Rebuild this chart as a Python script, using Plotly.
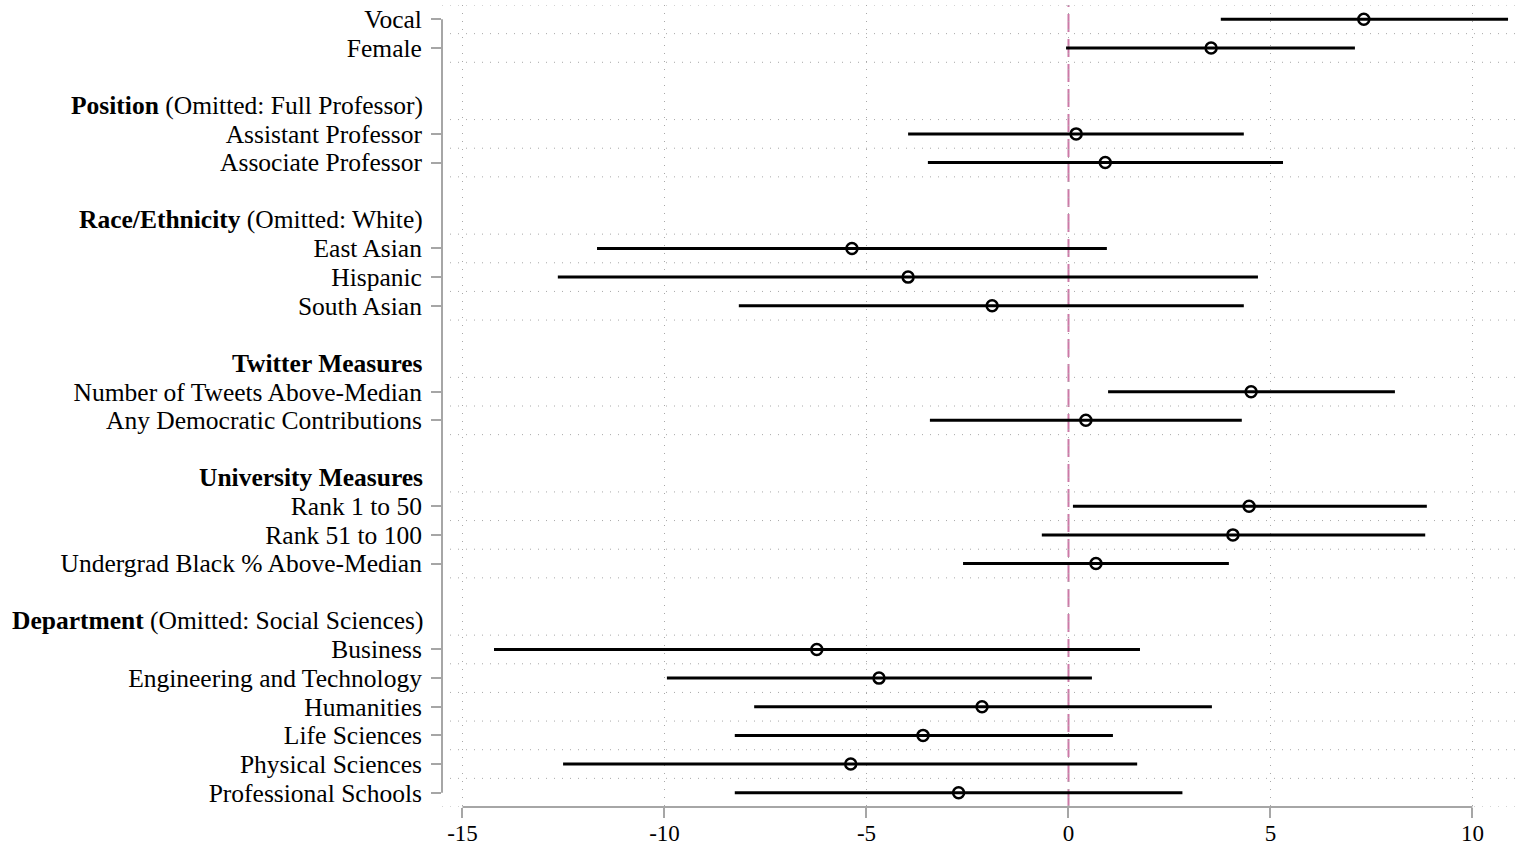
import plotly.graph_objects as go

# Coefficient groups: (bold header, plain suffix, coefficient names)
groups = [
    (None, None, ["Vocal", "Female"]),
    ("Position", " (Omitted: Full Professor)", ["Assistant Professor", "Associate Professor"]),
    ("Race/Ethnicity", " (Omitted: White)", ["East Asian", "Hispanic", "South Asian"]),
    ("Twitter Measures", "", ["Number of Tweets Above-Median", "Any Democratic Contributions"]),
    ("University Measures", "", ["Rank 1 to 50", "Rank 51 to 100", "Undergrad Black % Above-Median"]),
    ("Department", " (Omitted: Social Sciences)",
     ["Business", "Engineering and Technology", "Humanities", "Life Sciences",
      "Physical Sciences", "Professional Schools"]),
]

# Point estimates and 95% confidence bounds, in coefficient order
estimate = [7.31, 3.53, 0.19, 0.91, -5.36, -3.97, -1.89, 4.52, 0.43,
            4.47, 4.07, 0.68, -6.23, -4.69, -2.14, -3.60, -5.39, -2.72]
ci_low = [3.77, -0.06, -3.97, -3.48, -11.67, -12.64, -8.16, 0.98, -3.43,
          0.11, -0.66, -2.61, -14.22, -9.94, -7.78, -8.26, -12.51, -8.26]
ci_high = [10.88, 7.09, 4.34, 5.31, 0.95, 4.69, 4.34, 8.08, 4.29,
           8.87, 8.83, 3.97, 1.77, 0.58, 3.55, 1.10, 1.70, 2.82]

x_ticks = [-15, -10, -5, 0, 5, 10]

# Lay out rows: a blank row and a header row precede every titled group
coef_names, coef_rows, header_rows, header_texts = [], [], [], []
row = 0
for i, (head, suffix, items) in enumerate(groups):
    if head is not None:
        if i > 0:
            row += 1
        header_rows.append(row)
        header_texts.append(f"<b>{head}</b>{suffix}")
        row += 1
    for name in items:
        coef_names.append(name)
        coef_rows.append(row)
        row += 1
n_rows = row

FONT = "Liberation Serif, Times New Roman, serif"
LABEL_SIZE = 25.5
TICK_SIZE = 23
AXIS_GREY = "#a6a6a6"
GRID_GREY = "#a8a8a8"

fig = go.Figure()

# Confidence interval segments
ci_x, ci_y = [], []
for lo, hi, r in zip(ci_low, ci_high, coef_rows):
    ci_x += [lo, hi, None]
    ci_y += [r, r, None]
fig.add_trace(go.Scatter(x=ci_x, y=ci_y, mode="lines",
                         line=dict(color="black", width=3),
                         hoverinfo="skip", showlegend=False))

# Point estimates
fig.add_trace(go.Scatter(x=estimate, y=coef_rows, mode="markers",
                         marker=dict(symbol="circle-open", size=11, color="black",
                                     line=dict(width=2.5, color="black")),
                         text=coef_names, showlegend=False))

shapes = []
# Dotted separators around each coefficient row
sep = set()
for r in coef_rows:
    sep.add(r - 0.5)
    sep.add(r + 0.5)
for s in sorted(sep):
    shapes.append(dict(type="line", xref="paper", x0=0, x1=1, yref="y", y0=s, y1=s,
                       line=dict(color=GRID_GREY, width=1, dash="1px,7px"), layer="below"))

# Reference line at zero
shapes.append(dict(type="line", xref="x", x0=0, x1=0, yref="paper", y0=0, y1=1,
                   line=dict(color="#cc79a7", width=2, dash="18px,7px"), layer="below"))

# Axis lines spanning only the tick range
shapes.append(dict(type="line", xref="paper", x0=0, x1=0, yref="y",
                   y0=coef_rows[0], y1=coef_rows[-1],
                   line=dict(color=AXIS_GREY, width=2)))
shapes.append(dict(type="line", xref="x", x0=x_ticks[0], x1=x_ticks[-1], yref="paper",
                   y0=0, y1=0, line=dict(color=AXIS_GREY, width=2)))

annotations = []
for r, t in zip(header_rows, header_texts):
    annotations.append(dict(xref="paper", x=0, xanchor="right", xshift=-17,
                            yref="y", y=r, yanchor="middle", text=t, showarrow=False,
                            font=dict(family=FONT, size=LABEL_SIZE, color="black")))

fig.update_layout(
    width=1516, height=848,
    margin=dict(l=442, r=0, t=4.7, b=40.7),
    paper_bgcolor="white", plot_bgcolor="white",
    shapes=shapes, annotations=annotations,
    font=dict(family=FONT, size=LABEL_SIZE, color="black"),
    xaxis=dict(range=[-15.507, 11.077], tickvals=x_ticks,
               ticktext=[str(v) for v in x_ticks], automargin=False,
               showgrid=True, gridcolor=GRID_GREY, griddash="1px,7px", gridwidth=1,
               zeroline=False, showline=False,
               ticks="outside", ticklen=10, tickwidth=2, tickcolor=AXIS_GREY,
               ticklabelstandoff=-5,
               tickfont=dict(family=FONT, size=TICK_SIZE, color="black")),
    yaxis=dict(range=[n_rows - 0.5, -0.5], tickvals=coef_rows, ticktext=coef_names,
               automargin=False,
               showgrid=False, zeroline=False, showline=False,
               ticks="outside", ticklen=10, tickwidth=2, tickcolor=AXIS_GREY,
               ticklabelstandoff=4,
               tickfont=dict(family=FONT, size=LABEL_SIZE, color="black")),
)

fig.write_html("out.html")
